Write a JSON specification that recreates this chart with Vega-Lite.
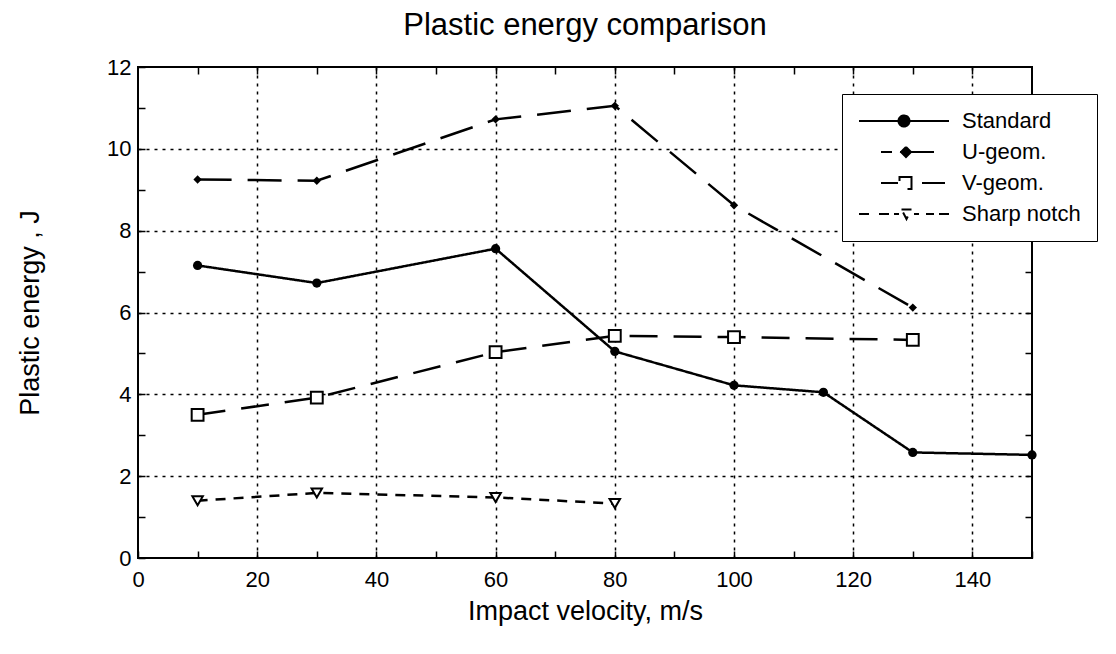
{
  "$schema": "https://vega.github.io/schema/vega-lite/v6.json",
  "width": 894,
  "height": 491,
  "autosize": {"type": "none"},
  "padding": {"left": 138, "top": 67, "right": 84, "bottom": 96},
  "background": "white",
  "config": {
    "font": "Liberation Sans",
    "view": {"stroke": "black", "strokeWidth": 2},
    "axis": {"domain": false, "labelColor": "black", "titleColor": "black", "tickColor": "black", "tickWidth": 1.5}
  },
  "title": {"text": "Plastic energy comparison", "fontSize": 31, "fontWeight": "normal", "font": "Liberation Sans", "color": "black", "offset": 14, "anchor": "middle"},
  "data": {"values": [
    {"series": "Standard", "v": 10, "e": 7.15},
    {"series": "Standard", "v": 30, "e": 6.72},
    {"series": "Standard", "v": 60, "e": 7.56},
    {"series": "Standard", "v": 80, "e": 5.05},
    {"series": "Standard", "v": 100, "e": 4.22},
    {"series": "Standard", "v": 115, "e": 4.05},
    {"series": "Standard", "v": 130, "e": 2.58},
    {"series": "Standard", "v": 150, "e": 2.52},
    {"series": "U-geom.", "v": 10, "e": 9.25},
    {"series": "U-geom.", "v": 30, "e": 9.22},
    {"series": "U-geom.", "v": 60, "e": 10.72},
    {"series": "U-geom.", "v": 80, "e": 11.05},
    {"series": "U-geom.", "v": 100, "e": 8.62},
    {"series": "U-geom.", "v": 130, "e": 6.12},
    {"series": "V-geom.", "v": 10, "e": 3.5},
    {"series": "V-geom.", "v": 30, "e": 3.92},
    {"series": "V-geom.", "v": 60, "e": 5.03},
    {"series": "V-geom.", "v": 80, "e": 5.43},
    {"series": "V-geom.", "v": 100, "e": 5.4},
    {"series": "V-geom.", "v": 130, "e": 5.33},
    {"series": "Sharp notch", "v": 10, "e": 1.4},
    {"series": "Sharp notch", "v": 30, "e": 1.59},
    {"series": "Sharp notch", "v": 60, "e": 1.48},
    {"series": "Sharp notch", "v": 80, "e": 1.33}
  ]},
  "resolve": {"axis": {"x": "independent", "y": "independent"}},
  "layer": [
    {
      "mark": {"type": "line", "color": "black", "strokeWidth": 2.5},
      "encoding": {
        "x": {"field": "v", "type": "quantitative", "scale": {"domain": [0, 150], "nice": false},
          "axis": {"values": [0,10,20,30,40,50,60,70,80,90,100,110,120,130,140,150],
            "labelExpr": "datum.value % 20 === 0 ? datum.label : ''",
            "tickSize": -7, "labelPadding": 18, "labelFontSize": 22, "labelFlush": false,
            "grid": true, "gridColor": "black", "gridDash": [3, 5], "gridWidth": 1.5,
            "gridOpacity": {"condition": {"test": "datum.value % 20 === 0 && datum.value > 0", "value": 1}, "value": 0},
            "title": "Impact velocity, m/s", "titleFontSize": 27, "titleFontWeight": "normal", "titlePadding": 8}},
        "y": {"field": "e", "type": "quantitative", "scale": {"domain": [0, 12], "nice": false},
          "axis": {"values": [0,1,2,3,4,5,6,7,8,9,10,11,12],
            "labelExpr": "datum.value % 2 === 0 ? datum.label : ''",
            "tickSize": -7, "labelPadding": 14, "labelFontSize": 22,
            "grid": true, "gridColor": "black", "gridDash": [3, 5], "gridWidth": 1.5,
            "gridOpacity": {"condition": {"test": "datum.value % 2 === 0 && datum.value > 0 && datum.value < 12", "value": 1}, "value": 0},
            "title": "Plastic energy , J", "titleFontSize": 27, "titleFontWeight": "normal", "titlePadding": 62}},
        "strokeDash": {"field": "series", "type": "nominal",
          "scale": {"domain": ["Standard", "U-geom.", "V-geom.", "Sharp notch"], "range": [[1, 0], [34, 16], [28, 16], [10, 8]]},
          "legend": {"title": null, "orient": "none", "legendX": 704, "legendY": 27,
            "symbolSize": 400, "symbolOffset": 35, "labelOffset": 47,
            "labelFontSize": 22, "labelColor": "black", "rowPadding": 9,
            "fillColor": "white", "strokeColor": "black", "padding": 16,
            "symbolStrokeColor": "black", "symbolStrokeWidth": 2,
            "encoding": {"symbols": {
              "shape": {"value": {"expr": "datum.value === 'Standard' ? 'M-4.5,0L4.5,0M0.55,0A0.55,0.55,0,1,1,-0.55,0A0.55,0.55,0,1,1,0.55,0Z' : datum.value === 'U-geom.' ? 'M-2.3,0L-1.2,0M-0.4,0L4.2,0M0.2,-0.5L0.7,0L0.2,0.5L-0.3,0Z' : datum.value === 'V-geom.' ? 'M-2.3,0L-0.6,0M1.8,0L4.1,0M-0.45,-0.6L0.75,-0.6L0.75,0.6L-0.45,0.6L-0.45,-0.6Z' : 'M-4.5,0L-3.5,0M-2.5,0L-1.5,0M-1,0L-0.5,0M1,0L1.5,0M2.2,0L3,0M3.5,0L4.5,0M-0.25,-0.45L0.75,-0.45L0.25,0.5Z'"}},
              "fill": {"value": {"expr": "datum.value === 'Standard' || datum.value === 'U-geom.' ? 'black' : 'white'"}},
              "fillOpacity": {"value": 1},
              "stroke": {"value": "black"},
              "strokeWidth": {"value": 2},
              "strokeDash": {"value": [1, 0]},
              "size": {"value": 400},
              "opacity": {"value": 1}
            }}}}
      }
    },
    {
      "transform": [{"filter": "datum.series === 'Standard'"}],
      "mark": {"type": "point", "shape": "circle", "filled": true, "color": "black", "size": 85, "opacity": 1},
      "encoding": {
        "x": {"field": "v", "type": "quantitative", "axis": null},
        "y": {"field": "e", "type": "quantitative", "axis": null}
      }
    },
    {
      "transform": [{"filter": "datum.series === 'U-geom.'"}],
      "mark": {"type": "point", "shape": "diamond", "filled": true, "color": "black", "size": 70, "opacity": 1},
      "encoding": {
        "x": {"field": "v", "type": "quantitative", "axis": null},
        "y": {"field": "e", "type": "quantitative", "axis": null}
      }
    },
    {
      "transform": [{"filter": "datum.series === 'V-geom.'"}],
      "mark": {"type": "point", "shape": "square", "fill": "white", "stroke": "black", "strokeWidth": 2, "size": 140, "opacity": 1},
      "encoding": {
        "x": {"field": "v", "type": "quantitative", "axis": null},
        "y": {"field": "e", "type": "quantitative", "axis": null}
      }
    },
    {
      "transform": [{"filter": "datum.series === 'Sharp notch'"}],
      "mark": {"type": "point", "shape": "triangle-down", "fill": "white", "stroke": "black", "strokeWidth": 2, "size": 110, "opacity": 1},
      "encoding": {
        "x": {"field": "v", "type": "quantitative", "axis": null},
        "y": {"field": "e", "type": "quantitative", "axis": null}
      }
    },
    {
      "mark": {"type": "point", "opacity": 0},
      "encoding": {
        "x": {"field": "v", "type": "quantitative",
          "axis": {"orient": "top", "values": [10,20,30,40,50,60,70,80,90,100,110,120,130,140], "labels": false, "tickSize": -7, "title": null, "grid": false}},
        "y": {"field": "e", "type": "quantitative",
          "axis": {"orient": "right", "values": [1,2,3,4,5,6,7,8,9,10,11], "labels": false, "tickSize": -7, "title": null, "grid": false}}
      }
    }
  ]
}
